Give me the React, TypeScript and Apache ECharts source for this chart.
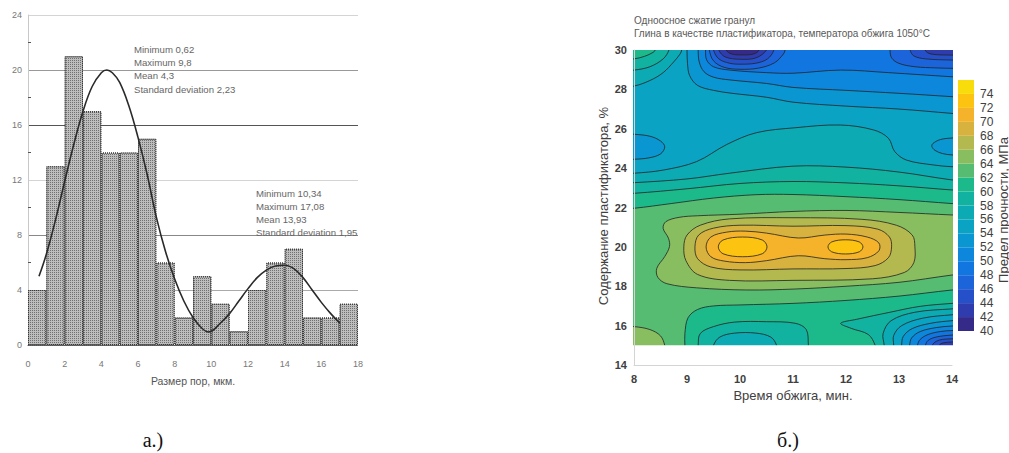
import React, { useEffect, useRef } from 'react';
import * as echarts from 'echarts';

// ---------- Left panel (histogram) data ----------
const HIST_BIN_START = [0, 1, 2, 3, 4, 5, 6, 7, 8, 9, 10, 11, 12, 13, 14, 15, 16, 17];
const HIST_COUNTS = [4, 13, 21, 17, 14, 14, 15, 6, 2, 5, 3, 1, 4, 6, 7, 2, 2, 3];
const CURVE_X = [0.6, 1, 1.5, 2, 2.5, 3, 3.5, 4, 4.3, 4.6, 5, 5.5, 6, 6.5, 7, 7.5, 8, 8.5, 9, 9.5, 9.85,
  10.5, 11, 11.5, 12, 12.5, 13, 13.5, 14, 14.5, 15, 15.5, 16, 16.5, 17];
const CURVE_Y = [5.0, 6.6, 9.1, 11.9, 14.6, 17.0, 18.8, 19.8, 20.0, 19.8, 19.1, 17.4, 15.1, 12.4, 9.3, 6.8, 4.8, 3.2, 2.0, 1.2, 0.95,
  1.6, 2.3, 3.2, 4.1, 4.9, 5.45, 5.75, 5.8, 5.55, 4.9, 4.0, 3.1, 2.3, 1.6];
const STATS_1 = ['Minimum 0,62', 'Maximum 9,8', 'Mean 4,3', 'Standard deviation 2,23'];
const STATS_2 = ['Minimum 10,34', 'Maximum 17,08', 'Mean 13,93', 'Standard deviation 1,95'];

// ---------- Right panel (contour) data ----------
const LEVELS = [40, 42, 44, 46, 48, 50, 52, 54, 56, 58, 60, 62, 64, 66, 68, 70, 72, 74];
const LEVEL_COLORS = ['#352a87', '#2e3cad', '#2650c9', '#1b64da', '#1276e0', '#0c87dc', '#0a96d1', '#0aa3c3',
  '#0caab3', '#12b2a0', '#1cba8b', '#55bc72', '#88bd60', '#b3b94f', '#d7b23e', '#f5b22b', '#fcc410', '#f9dc0b'];

type P = number[][];
const BASE: P = [[7.7, 14.6], [14.3, 14.6], [14.3, 30.4], [7.7, 30.4]];
const TOP_L54: P = [[9.0, 30.4], [9.0, 30.0], [9.01, 29.3], [9.05, 28.7], [9.2, 28.2], [9.5, 27.95], [9.85, 27.8], [10.5, 27.6], [11.0, 27.35], [12.0, 27.15], [13.0, 27.0], [14.0, 26.78], [14.3, 26.72], [14.3, 30.4]];
const TOP_L52: P = [[9.21, 30.4], [9.21, 30.0], [9.23, 29.4], [9.32, 28.9], [9.5, 28.62], [9.81, 28.48], [10.5, 28.3], [11.0, 28.1], [12.0, 27.95], [13.0, 27.8], [14.0, 27.63], [14.3, 27.58], [14.3, 30.4]];
const TOP_L50: P = [[9.35, 30.4], [9.35, 30.0], [9.37, 29.5], [9.5, 29.15], [9.81, 28.98], [10.5, 28.85], [11.0, 28.82], [11.9, 28.98], [12.8, 28.85], [14.0, 28.64], [14.3, 28.6], [14.3, 30.4]];
const TOP_MID_L48: P = [[9.42, 30.4], [9.42, 30.0], [9.5, 29.45], [9.7, 29.12], [10.0, 29.02], [10.35, 29.08], [10.65, 29.35], [10.82, 29.8], [10.85, 30.0], [10.85, 30.4]];
const TOP_RIGHT_L48: P = [[12.83, 30.4], [12.83, 30.0], [12.86, 29.6], [13.0, 29.32], [13.3, 29.15], [13.7, 29.09], [14.0, 29.07], [14.3, 29.06], [14.3, 30.4]];
const TOP_MID_L46: P = [[9.5, 30.4], [9.5, 30.0], [9.6, 29.55], [9.8, 29.33], [10.0, 29.28], [10.3, 29.33], [10.52, 29.55], [10.64, 30.0], [10.64, 30.4]];
const TOP_RIGHT_L46: P = [[13.21, 30.4], [13.21, 30.0], [13.28, 29.7], [13.5, 29.55], [14.0, 29.49], [14.3, 29.48], [14.3, 30.4]];
const TOP_MID_L44: P = [[9.6, 30.4], [9.6, 30.0], [9.72, 29.65], [10.0, 29.53], [10.3, 29.6], [10.5, 30.0], [10.5, 30.4]];
const TOP_RIGHT_L44: P = [[13.49, 30.4], [13.49, 30.0], [13.6, 29.8], [14.0, 29.74], [14.3, 29.74], [14.3, 30.4]];
const TOP_MID_L42: P = [[9.74, 30.4], [9.74, 30.0], [9.84, 29.8], [10.05, 29.75], [10.26, 29.8], [10.36, 30.0], [10.36, 30.4]];
const LEFT_ELLIPSE_L54: P = [[7.7, 25.75], [8.0, 25.72], [8.3, 25.62], [8.5, 25.38], [8.58, 25.08], [8.5, 24.72], [8.28, 24.52], [8.0, 24.45], [7.7, 24.43]];
const RIGHT_ELLIPSE_L54: P = [[14.3, 25.56], [14.0, 25.53], [13.78, 25.45], [13.64, 25.25], [13.62, 25.1], [13.68, 24.9], [13.82, 24.74], [14.0, 24.67], [14.3, 24.65]];
const CORNER_U56: P = [[7.7, 28.12], [8.0, 28.17], [8.3, 28.45], [8.55, 28.85], [8.75, 29.4], [8.87, 29.8], [8.9, 30.0], [8.91, 30.4], [7.7, 30.4]];
const CORNER_U58: P = [[7.7, 28.95], [8.0, 28.98], [8.3, 29.15], [8.55, 29.55], [8.66, 30.0], [8.67, 30.4], [7.7, 30.4]];
const CORNER_U60: P = [[7.7, 29.52], [8.0, 29.55], [8.2, 29.68], [8.36, 29.88], [8.4, 30.0], [8.41, 30.4], [7.7, 30.4]];
const MAIN_U56: P = [[7.7, 23.72], [8.0, 23.74], [8.55, 23.9], [9.18, 24.33], [9.75, 25.2], [10.31, 25.8], [11.04, 26.05], [11.89, 26.19], [12.52, 25.94], [12.8, 25.52], [12.92, 24.84], [13.14, 24.41], [13.65, 24.16], [14.0, 24.07], [14.3, 24.05], [14.3, 14.6], [7.7, 14.6]];
const MAIN_U58: P = [[7.7, 23.24], [8.0, 23.26], [9.0, 23.45], [9.8, 23.74], [11.0, 24.1], [12.0, 24.05], [13.0, 23.8], [14.0, 23.4], [14.3, 23.35], [14.3, 14.6], [7.7, 14.6]];
const MAIN_U60: P = [[7.7, 22.7], [8.0, 22.72], [9.0, 22.95], [10.0, 23.22], [11.0, 23.32], [12.0, 23.25], [13.0, 23.1], [14.0, 22.89], [14.3, 22.85], [14.3, 14.6], [7.7, 14.6]];
const MID_BASIN_L60: P = [[9.21, 14.6], [9.21, 15.0], [9.25, 15.6], [9.5, 15.95], [9.9, 16.18], [10.5, 16.2], [11.04, 16.12], [11.25, 15.8], [11.29, 15.0], [11.29, 14.6]];
const MID_BASIN_L58: P = [[9.5, 14.6], [9.5, 15.0], [9.62, 15.42], [9.9, 15.62], [10.3, 15.62], [10.58, 15.42], [10.69, 15.0], [10.69, 14.6]];
const RB_L60: P = [[14.3, 17.18], [14.0, 17.13], [13.4, 16.98], [12.83, 16.68], [12.2, 16.32], [11.9, 16.12], [12.1, 15.86], [12.42, 15.55], [12.55, 15.0], [12.56, 14.6], [14.3, 14.6]];
const RB_L58: P = [[12.72, 14.6], [12.72, 15.0], [12.7, 15.6], [12.85, 16.25], [13.3, 16.68], [14.0, 16.85], [14.3, 16.88], [14.3, 14.6]];
const RB_L56: P = [[12.9, 14.6], [12.9, 15.0], [12.9, 15.5], [13.05, 16.0], [13.45, 16.38], [14.0, 16.55], [14.3, 16.58], [14.3, 14.6]];
const RB_L54: P = [[13.05, 14.6], [13.05, 15.0], [13.08, 15.45], [13.25, 15.85], [13.6, 16.12], [14.0, 16.25], [14.3, 16.28], [14.3, 14.6]];
const RB_L52: P = [[13.2, 14.6], [13.2, 15.0], [13.24, 15.38], [13.4, 15.7], [13.7, 15.9], [14.0, 15.98], [14.3, 16.0], [14.3, 14.6]];
const RB_L50: P = [[13.35, 14.6], [13.35, 15.0], [13.4, 15.3], [13.55, 15.55], [13.78, 15.7], [14.0, 15.75], [14.3, 15.77], [14.3, 14.6]];
const RB_L48: P = [[13.5, 14.6], [13.5, 15.0], [13.55, 15.25], [13.7, 15.42], [14.0, 15.52], [14.3, 15.54], [14.3, 14.6]];
const RB_L46: P = [[13.63, 14.6], [13.63, 15.0], [13.7, 15.2], [13.82, 15.3], [14.0, 15.33], [14.3, 15.35], [14.3, 14.6]];
const RB_L44: P = [[13.76, 14.6], [13.76, 15.0], [13.83, 15.12], [14.0, 15.17], [14.3, 15.19], [14.3, 14.6]];
const MAIN_U62: P = [[7.7, 21.93], [8.0, 21.96], [8.7, 22.2], [9.5, 22.48], [10.3, 22.65], [11.0, 22.66], [12.0, 22.55], [13.0, 22.4], [14.0, 22.2], [14.3, 22.15],
  [14.3, 17.86], [14.0, 17.81], [13.0, 17.5], [12.0, 17.28], [11.0, 17.13], [10.0, 17.05], [9.5, 17.0], [9.2, 16.82], [9.02, 16.4], [8.96, 15.6], [8.96, 15.0], [8.96, 14.6], [7.7, 14.6]];
const CORNER_U64: P = [[7.7, 15.97], [8.0, 15.95], [8.3, 15.8], [8.5, 15.48], [8.58, 15.0], [8.59, 14.6], [7.7, 14.6]];
const MAIN_U64: P = [[14.3, 21.6], [14.0, 21.62], [13.0, 21.75], [12.0, 21.85], [11.0, 21.8], [10.0, 21.66], [9.2, 21.58], [8.85, 21.5], [8.6, 21.28], [8.55, 20.94], [8.65, 20.44], [8.67, 20.02], [8.58, 19.51], [8.43, 18.91], [8.45, 18.45], [8.62, 18.13], [9.18, 17.92], [10.13, 17.81], [11.04, 17.86], [12.0, 18.0], [13.0, 18.2], [14.0, 18.57], [14.3, 18.65]];
const PEAK_U66: P = [[8.94, 20.0], [9.0, 20.6], [9.25, 21.1], [9.8, 21.42], [11.0, 21.48], [12.3, 21.4], [12.95, 21.1], [13.25, 20.6], [13.3, 20.0], [13.28, 19.2], [13.1, 18.7], [12.5, 18.38], [11.0, 18.3], [9.8, 18.3], [9.2, 18.6], [8.98, 19.3]];
const PEAK_U68: P = [[9.15, 20.0], [9.22, 20.6], [9.5, 20.95], [10.0, 21.1], [11.0, 21.05], [12.0, 21.08], [12.6, 20.9], [12.82, 20.5], [12.86, 20.0], [12.8, 19.45], [12.55, 19.05], [12.0, 18.9], [11.0, 18.88], [10.0, 18.83], [9.45, 18.98], [9.2, 19.4]];
const PEAK_U70: P = [[9.36, 20.0], [9.45, 20.5], [9.75, 20.75], [10.1, 20.8], [10.5, 20.7], [11.1, 20.45], [11.6, 20.6], [12.0, 20.65], [12.4, 20.5], [12.62, 20.2], [12.62, 19.8], [12.4, 19.45], [12.0, 19.35], [11.6, 19.4], [11.1, 19.55], [10.5, 19.3], [10.1, 19.2], [9.7, 19.28], [9.45, 19.5]];
const PEAK_U72_LEFT: P = [[9.59, 20.0], [9.68, 20.35], [10.05, 20.5], [10.42, 20.35], [10.51, 20.0], [10.42, 19.65], [10.05, 19.5], [9.68, 19.65]];
const PEAK_U72_RIGHT: P = [[11.66, 20.0], [11.73, 20.25], [11.99, 20.36], [12.25, 20.25], [12.32, 20.0], [12.25, 19.75], [11.99, 19.64], [11.73, 19.75]];

type Patch = { band: number; pts?: P; smooth?: number; noStroke?: boolean; cover?: boolean };
const PATCHES: Patch[] = [
  { band: 54, pts: BASE, smooth: 0, noStroke: true },
  { band: 52, pts: TOP_L54 }, { band: 50, pts: TOP_L52 }, { band: 48, pts: TOP_L50 },
  { band: 46, pts: TOP_MID_L48 }, { band: 46, pts: TOP_RIGHT_L48 },
  { band: 44, pts: TOP_MID_L46 }, { band: 44, pts: TOP_RIGHT_L46 },
  { band: 42, pts: TOP_MID_L44 }, { band: 42, pts: TOP_RIGHT_L44 },
  { band: 40, pts: TOP_MID_L42 },
  { band: 52, pts: LEFT_ELLIPSE_L54 }, { band: 52, pts: RIGHT_ELLIPSE_L54 },
  { band: 56, pts: CORNER_U56 }, { band: 58, pts: CORNER_U58 }, { band: 60, pts: CORNER_U60 },
  { band: 56, pts: MAIN_U56 }, { band: 58, pts: MAIN_U58 }, { band: 60, pts: MAIN_U60 },
  { band: 58, pts: MID_BASIN_L60 }, { band: 56, pts: MID_BASIN_L58 },
  { band: 58, pts: RB_L60 }, { band: 56, pts: RB_L58 }, { band: 54, pts: RB_L56 }, { band: 52, pts: RB_L54 },
  { band: 50, pts: RB_L52 }, { band: 48, pts: RB_L50 }, { band: 46, pts: RB_L48 }, { band: 44, pts: RB_L46 }, { band: 42, pts: RB_L44 },
  { band: 62, pts: MAIN_U62 }, { band: 64, pts: CORNER_U64 }, { band: 64, pts: MAIN_U64 },
  { band: 66, pts: PEAK_U66 }, { band: 68, pts: PEAK_U68 }, { band: 70, pts: PEAK_U70 },
  { band: 72, pts: PEAK_U72_LEFT }, { band: 72, pts: PEAK_U72_RIGHT },
  { band: 0, cover: true },
];

const bandColor = (b: number) => LEVEL_COLORS[LEVELS.indexOf(b)] || '#fff';

const SANS = 'Liberation Sans, Arial, sans-serif';

export default function App() {
  const ref = useRef<HTMLDivElement>(null);
  useEffect(() => {
    if (!ref.current) return;
    const chart = echarts.init(ref.current, null, { renderer: 'svg' });
    const histBarPx = 330 / 18;
    const statText = (lines: string[], x: number, y0: number, dy: number) =>
      lines.map((t, i) => ({
        type: 'text', x, y: y0 + i * dy, z: 50,
        style: { text: t, fill: '#666', font: `9.6px ${SANS}`, textVerticalAlign: 'middle' },
      }));
    const option: any = {
      animation: false,
      grid: [
        { left: 28, top: 15, width: 330, height: 330 },
        { left: 634, top: 50, width: 318, height: 315 },
        { left: 958, top: 80, width: 16, height: 251 },
      ],
      xAxis: [
        {
          type: 'value', gridIndex: 0, min: 0, max: 18, interval: 2,
          axisLine: { show: true, lineStyle: { color: '#555', type: 'dotted' } },
          axisTick: { show: false }, splitLine: { show: false },
          axisLabel: { color: '#777', fontSize: 9, fontFamily: SANS, margin: 14 },
          name: 'Размер пор, мкм.', nameLocation: 'middle', nameGap: 30,
          nameTextStyle: { color: '#555', fontSize: 10.5, fontFamily: SANS },
        },
        {
          type: 'value', gridIndex: 1, min: 8, max: 14, interval: 1, z: 10,
          axisLine: { show: true, lineStyle: { color: '#d4d4d4' } },
          axisTick: { show: false }, splitLine: { show: false },
          axisLabel: { color: '#404040', fontSize: 11, fontWeight: 'bold', fontFamily: SANS, margin: 8 },
          name: 'Время обжига, мин.', nameLocation: 'middle', nameGap: 24,
          nameTextStyle: { color: '#404040', fontSize: 13, fontFamily: SANS },
        },
        { type: 'value', gridIndex: 2, min: 0, max: 1, show: false },
      ],
      yAxis: [
        {
          type: 'value', gridIndex: 0, min: 0, max: 24, interval: 4,
          axisLine: { show: true, lineStyle: { color: '#c8c8c8' } },
          axisTick: { show: false, inside: true },
          minorTick: { show: true, splitNumber: 2, length: 3, lineStyle: { color: '#555' } },
          splitLine: { show: true, lineStyle: { color: ['#888', '#aaa', '#888', '#d4d4d4', '#555', '#999', '#d4d4d4'], width: 1 } },
          axisLabel: { color: '#777', fontSize: 9, fontFamily: SANS, margin: 6 },
        },
        {
          type: 'value', gridIndex: 1, min: 14, max: 30, interval: 2, z: 10,
          axisLine: { show: true, lineStyle: { color: '#d4d4d4' } },
          axisTick: { show: false }, splitLine: { show: false },
          axisLabel: { color: '#404040', fontSize: 11, fontWeight: 'bold', fontFamily: SANS, margin: 7 },
        },
        {
          type: 'value', gridIndex: 2, min: 40, max: 76, interval: 2, position: 'right',
          axisLine: { show: false }, axisTick: { show: false }, splitLine: { show: false },
          axisLabel: { color: '#404040', fontSize: 12, fontFamily: SANS, margin: 6, showMaxLabel: false },
        },
      ],
      series: [
        {
          type: 'bar', xAxisIndex: 0, yAxisIndex: 0, barWidth: histBarPx,
          data: HIST_BIN_START.map((s, i) => [s + 0.5, HIST_COUNTS[i]]),
          itemStyle: {
            color: '#bdbdbd', borderColor: '#333', borderWidth: 1, borderType: 'dotted',
            decal: { symbol: 'rect', symbolSize: 1, dashArrayX: [1, 1], dashArrayY: [1, 1], rotation: 0, color: 'rgba(60,60,60,0.6)' },
          },
        },
        {
          type: 'line', xAxisIndex: 0, yAxisIndex: 0, smooth: 0.4, symbol: 'none', z: 5,
          data: CURVE_X.map((x, i) => [x, CURVE_Y[i]]),
          lineStyle: { color: '#2a2a2a', width: 1.6 },
        },
        {
          type: 'custom', xAxisIndex: 1, yAxisIndex: 1, clip: true,
          lineStyle: { width: 0.01 },
          encode: { x: 0, y: 1 },
          data: PATCHES.map((_, i) => [8, 15, i]),
          renderItem: (params: any, api: any) => {
            const p = PATCHES[params.dataIndex];
            if (p.cover) {
              const a = api.coord([8, 15]);
              const b = api.coord([14, 14]);
              return {
                type: 'rect', z2: 1000,
                shape: { x: a[0] - 6, y: a[1], width: b[0] - a[0] + 12, height: b[1] - a[1] + 6 },
                style: { fill: '#ffffff' },
              };
            }
            const points = (p.pts as P).map((q) => api.coord(q));
            return {
              type: 'polygon', z2: params.dataIndex,
              shape: { points, smooth: p.smooth === undefined ? 0.35 : p.smooth },
              style: { fill: bandColor(p.band), stroke: p.noStroke ? 'none' : '#222', lineWidth: 0.8 },
            };
          },
        },
        {
          type: 'custom', xAxisIndex: 2, yAxisIndex: 2,
          encode: { x: 0, y: 1 },
          data: LEVELS.map((l) => [0, l]),
          renderItem: (params: any, api: any) => {
            const v = api.value(1);
            const a = api.coord([0, v + 2]);
            const b = api.coord([1, v]);
            return {
              type: 'rect',
              shape: { x: a[0], y: a[1], width: b[0] - a[0], height: b[1] - a[1] },
              style: { fill: LEVEL_COLORS[params.dataIndex] },
            };
          },
        },
      ],
      graphic: [
        ...statText(STATS_1, 134, 49, 13.4),
        ...statText(STATS_2, 256, 193, 13.3),
        { type: 'text', x: 634, y: 20, style: { text: 'Одноосное сжатие гранул', fill: '#595959', font: `10px ${SANS}`, textVerticalAlign: 'middle' } },
        { type: 'text', x: 634, y: 33, style: { text: 'Глина в качестве пластификатора, температора обжига 1050°C', fill: '#595959', font: `10px ${SANS}`, textVerticalAlign: 'middle' } },
        { type: 'text', x: 603, y: 206, rotation: Math.PI / 2, style: { text: 'Содержание пластификатора, %', fill: '#404040', font: `13px ${SANS}`, textAlign: 'center', textVerticalAlign: 'middle' } },
        { type: 'text', x: 1003, y: 210, rotation: Math.PI / 2, style: { text: 'Предел прочности, МПа', fill: '#404040', font: `13px ${SANS}`, textAlign: 'center', textVerticalAlign: 'middle' } },
        { type: 'text', x: 153, y: 440, style: { text: 'а.)', fill: '#111', font: `20px Liberation Serif, serif`, textAlign: 'center', textVerticalAlign: 'middle' } },
        { type: 'text', x: 788, y: 440, style: { text: 'б.)', fill: '#111', font: `20px Liberation Serif, serif`, textAlign: 'center', textVerticalAlign: 'middle' } },
      ],
    };
    chart.setOption(option);
    return () => chart.dispose();
  }, []);
  return <div ref={ref} style={{ position: 'absolute', left: 0, top: 0, width: 1009, height: 453, background: '#fff' }} />;
}
